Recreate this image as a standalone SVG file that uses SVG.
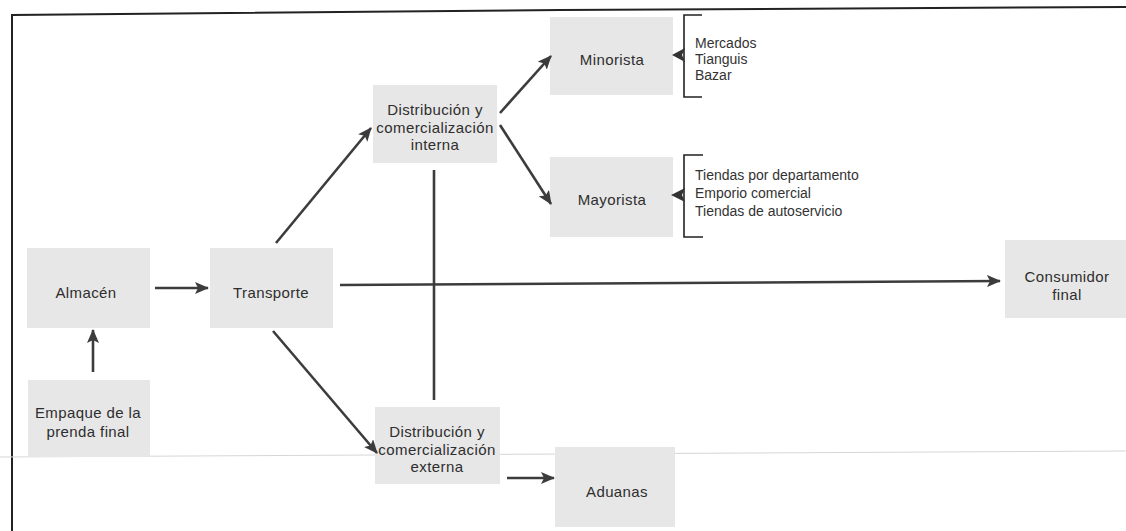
<svg xmlns="http://www.w3.org/2000/svg" width="1126" height="531" viewBox="0 0 1126 531">
<defs>
<style>
.box{fill:#e7e7e7;}
.nt{font-family:"Liberation Sans",Arial,sans-serif;font-size:15px;fill:#2e2e2e;text-anchor:middle;letter-spacing:0.4px;}
.lt{font-family:"Liberation Sans",Arial,sans-serif;font-size:14px;fill:#333;}
.ln{stroke:#3c3c3c;stroke-width:2.6;fill:none;}
.br{stroke:#222;stroke-width:1.6;fill:none;}
</style>
<marker id="ah" viewBox="0 0 14 12" refX="13" refY="6" markerWidth="14" markerHeight="12" markerUnits="userSpaceOnUse" orient="auto">
<path d="M0,0 L14,6 L0,12 L3,6 z" fill="#3c3c3c"/>
</marker>
</defs>
<rect width="1126" height="531" fill="#ffffff"/>
<polyline points="12,531 12,15 560,10 1126,7" fill="none" stroke="#222" stroke-width="2"/>
<line x1="0" y1="457" x2="1126" y2="451" stroke="#d6d6d6" stroke-width="1"/>

<g id="almacen"><rect class="box" x="27" y="248" width="123" height="80"/><text class="nt" x="86" y="298">Almacén</text></g>
<g id="transporte"><rect class="box" x="210" y="248" width="123" height="80"/><text class="nt" x="271" y="298">Transporte</text></g>
<g id="empaque"><rect class="box" x="28" y="380" width="122" height="77"/><text class="nt" x="88" y="418">Empaque de la</text><text class="nt" x="88" y="437">prenda final</text></g>
<g id="dist-interna"><rect class="box" x="373" y="85" width="124" height="78"/><text class="nt" x="435" y="115">Distribución y</text><text class="nt" x="435" y="133">comercialización</text><text class="nt" x="435" y="150">interna</text></g>
<g id="dist-externa"><rect class="box" x="375" y="407" width="125" height="77"/><text class="nt" x="437" y="437">Distribución y</text><text class="nt" x="437" y="455">comercialización</text><text class="nt" x="437" y="472">externa</text></g>
<g id="minorista"><rect class="box" x="550" y="17" width="123" height="78"/><text class="nt" x="612" y="65">Minorista</text></g>
<g id="mayorista"><rect class="box" x="550" y="157" width="123" height="80"/><text class="nt" x="612" y="205">Mayorista</text></g>
<g id="aduanas"><rect class="box" x="555" y="447" width="120" height="80"/><text class="nt" x="617" y="497">Aduanas</text></g>
<g id="consumidor"><rect class="box" x="1005" y="240" width="121" height="78"/><text class="nt" x="1067" y="282">Consumidor</text><text class="nt" x="1067" y="300">final</text></g>

<g id="minorista-tipos">
<path class="br" d="M702,15 L684,15 L684,97 L702,97"/>
<path d="M672,55 L685,48 L682,55 L685,62 z" fill="#333"/>
<text class="lt" x="695" y="48">Mercados</text>
<text class="lt" x="695" y="64">Tianguis</text>
<text class="lt" x="695" y="80">Bazar</text>
</g>
<g id="mayorista-tipos">
<path class="br" d="M703,155 L684,155 L684,237 L703,237"/>
<path d="M671,195 L685,188 L682,195 L685,202 z" fill="#333"/>
<text class="lt" x="695" y="180">Tiendas por departamento</text>
<text class="lt" x="695" y="198">Emporio comercial</text>
<text class="lt" x="695" y="216">Tiendas de autoservicio</text>
</g>

<g id="connectors">
<line class="ln" x1="155" y1="288" x2="208" y2="288" marker-end="url(#ah)"/>
<line class="ln" x1="93" y1="372" x2="93" y2="330" marker-end="url(#ah)"/>
<line class="ln" x1="276" y1="243" x2="371" y2="128" marker-end="url(#ah)"/>
<line class="ln" x1="273" y1="331" x2="377" y2="453" marker-end="url(#ah)"/>
<line class="ln" x1="500" y1="113" x2="551" y2="56" marker-end="url(#ah)"/>
<line class="ln" x1="500" y1="125" x2="551" y2="204" marker-end="url(#ah)"/>
<line class="ln" x1="507" y1="478" x2="554" y2="478" marker-end="url(#ah)"/>
<line class="ln" x1="340" y1="285" x2="1000" y2="281" marker-end="url(#ah)"/>
<line class="ln" x1="434" y1="170" x2="434" y2="400"/>
</g>
</svg>
